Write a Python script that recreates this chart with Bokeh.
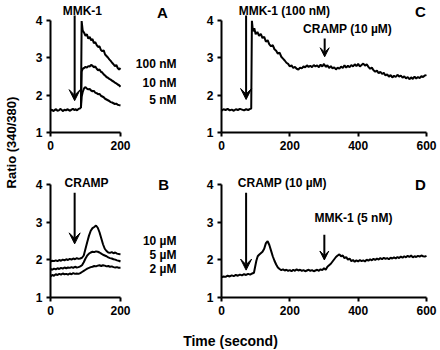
from bokeh.plotting import figure
from bokeh.models import Range1d, FixedTicker, Label, Arrow, VeeHead
from bokeh.layouts import row, column
from bokeh.embed import file_html
from bokeh.resources import INLINE
import math

# ---------------- data ----------------
# Panel A: MMK-1 response (shared baseline, then three concentrations)
a_base_t = [0, 4, 8, 12, 16, 20, 24, 28, 32, 36, 40, 44, 48, 52, 56, 60, 64, 68, 72, 76, 80, 84, 87]
a_base_v = [1.58, 1.61, 1.57, 1.60, 1.62, 1.58, 1.59, 1.63, 1.60, 1.57, 1.61, 1.59, 1.62, 1.60, 1.58,
            1.61, 1.63, 1.60, 1.62, 1.59, 1.63, 1.64, 1.66]
a_resp_t = [87, 89, 92, 96, 100, 104, 108, 112, 116, 120, 124, 128, 132, 136, 140, 144, 148, 152, 156,
            160, 164, 168, 172, 176, 180, 184, 188, 192, 196, 200]
a_100nM = [1.66, 3.97, 3.72, 3.66, 3.58, 3.62, 3.50, 3.55, 3.46, 3.49, 3.38, 3.41, 3.33, 3.28, 3.30,
           3.20, 3.17, 3.19, 3.08, 3.04, 3.00, 2.95, 2.91, 2.86, 2.82, 2.77, 2.80, 2.72, 2.68, 2.72]
a_10nM = [1.66, 2.62, 2.70, 2.72, 2.75, 2.73, 2.77, 2.76, 2.80, 2.78, 2.74, 2.76, 2.70, 2.66, 2.68,
          2.62, 2.60, 2.55, 2.52, 2.48, 2.46, 2.43, 2.41, 2.38, 2.36, 2.33, 2.31, 2.28, 2.26, 2.22]
a_5nM = [1.66, 1.95, 2.08, 2.18, 2.21, 2.17, 2.15, 2.16, 2.12, 2.10, 2.11, 2.06, 2.05, 2.02, 2.03,
         1.98, 1.96, 1.94, 1.90, 1.88, 1.86, 1.84, 1.81, 1.80, 1.78, 1.76, 1.77, 1.74, 1.73, 1.72]
a_labels = ["100 nM", "10 nM", "5 nM"]

# Panel B: CRAMP response at three concentrations
b_t = [0, 5, 10, 15, 20, 25, 30, 35, 40, 45, 50, 55, 60, 65, 70, 75, 80, 85, 90, 95, 100, 105, 110,
       115, 120, 125, 130, 135, 140, 145, 150, 155, 160, 165, 170, 175, 180, 185, 190, 195, 200]
b_10uM = [1.96, 1.98, 1.97, 1.99, 1.97, 2.00, 1.98, 2.01, 1.99, 2.02, 2.00, 2.03, 2.01, 2.04, 2.02,
          2.05, 2.03, 2.04, 2.06, 2.12, 2.30, 2.48, 2.65, 2.78, 2.85, 2.88, 2.92, 2.86, 2.74, 2.58,
          2.42, 2.30, 2.24, 2.20, 2.19, 2.21, 2.18, 2.20, 2.17, 2.16, 2.15]
b_5uM = [1.76, 1.74, 1.77, 1.75, 1.78, 1.76, 1.79, 1.77, 1.80, 1.78, 1.80, 1.79, 1.81, 1.79, 1.82,
         1.80, 1.81, 1.83, 1.86, 1.94, 2.04, 2.12, 2.17, 2.20, 2.22, 2.21, 2.23, 2.22, 2.20, 2.17,
         2.14, 2.12, 2.10, 2.07, 2.05, 2.04, 2.02, 2.01, 1.99, 1.98, 1.96]
b_2uM = [1.56, 1.60, 1.58, 1.62, 1.60, 1.63, 1.61, 1.64, 1.62, 1.63, 1.61, 1.64, 1.62, 1.65, 1.63,
         1.64, 1.63, 1.65, 1.68, 1.71, 1.74, 1.77, 1.79, 1.81, 1.82, 1.84, 1.83, 1.85, 1.86, 1.84,
         1.86, 1.85, 1.83, 1.84, 1.82, 1.83, 1.81, 1.80, 1.81, 1.79, 1.79]
b_labels = ["10 µM", "5 µM", "2 µM"]

# Panel C: MMK-1 (100 nM) then CRAMP (10 µM)
c_t = [0, 6, 12, 18, 24, 30, 36, 42, 48, 54, 60, 66, 72, 78, 84, 87, 89, 92, 96, 100, 105, 110, 115,
       120, 125, 130, 135, 140, 145, 150, 155, 160, 165, 170, 175, 180, 185, 190, 195, 200, 205, 210,
       215, 220, 225, 230, 235, 240, 245, 250, 255, 260, 265, 270, 275, 280, 285, 290, 295, 300, 305,
       310, 315, 320, 325, 330, 335, 340, 345, 350, 355, 360, 365, 370, 375, 380, 385, 390, 395, 400,
       405, 410, 415, 420, 425, 430, 435, 440, 445, 450, 455, 460, 465, 470, 475, 480, 485, 490, 495,
       500, 505, 510, 515, 520, 525, 530, 535, 540, 545, 550, 555, 560, 565, 570, 575, 580, 585, 590,
       595, 600]
c_v = [1.58, 1.62, 1.60, 1.63, 1.59, 1.61, 1.58, 1.62, 1.60, 1.63, 1.61, 1.59, 1.62, 1.60, 1.63, 1.64,
       3.98, 3.70, 3.78, 3.62, 3.68, 3.58, 3.63, 3.52, 3.55, 3.42, 3.46, 3.35, 3.30, 3.33, 3.22, 3.18,
       3.10, 3.13, 3.02, 2.97, 2.92, 2.86, 2.83, 2.76, 2.79, 2.72, 2.75, 2.70, 2.68, 2.73, 2.71, 2.76,
       2.74, 2.79, 2.75, 2.78, 2.74, 2.80, 2.76, 2.79, 2.74, 2.81, 2.76, 2.83, 2.75, 2.79, 2.72, 2.77,
       2.71, 2.74, 2.68, 2.73, 2.70, 2.76, 2.72, 2.79, 2.73, 2.78, 2.74, 2.80, 2.76, 2.82, 2.77, 2.83,
       2.76, 2.80, 2.84, 2.78, 2.82, 2.75, 2.70, 2.73, 2.66, 2.62, 2.65, 2.58, 2.62, 2.56, 2.59, 2.52,
       2.55, 2.49, 2.53, 2.47, 2.51, 2.48, 2.54, 2.49, 2.52, 2.46, 2.50, 2.44, 2.48, 2.42, 2.47, 2.43,
       2.49, 2.44, 2.48, 2.45, 2.50, 2.48, 2.52, 2.53]

# Panel D: CRAMP (10 µM) then MMK-1 (5 nM)
d_t = [0, 6, 12, 18, 24, 30, 36, 42, 48, 54, 60, 66, 72, 78, 84, 90, 95, 98, 102, 106, 110, 115, 120,
       125, 130, 135, 140, 145, 150, 155, 160, 165, 170, 175, 180, 185, 190, 195, 200, 205, 210, 215,
       220, 225, 230, 235, 240, 245, 250, 255, 260, 265, 270, 275, 280, 285, 290, 295, 300, 305, 310,
       315, 320, 325, 330, 335, 340, 345, 350, 355, 360, 365, 370, 375, 380, 385, 390, 395, 400, 405,
       410, 415, 420, 425, 430, 435, 440, 445, 450, 455, 460, 465, 470, 475, 480, 485, 490, 495, 500,
       505, 510, 515, 520, 525, 530, 535, 540, 545, 550, 555, 560, 565, 570, 575, 580, 585, 590, 595,
       600]
d_v = [1.54, 1.56, 1.55, 1.58, 1.56, 1.59, 1.57, 1.60, 1.58, 1.61, 1.59, 1.62, 1.60, 1.63, 1.61, 1.64,
       1.66, 1.80, 1.98, 2.10, 2.14, 2.18, 2.22, 2.30, 2.45, 2.50, 2.40, 2.25, 2.10, 1.98, 1.88, 1.80,
       1.76, 1.73, 1.75, 1.72, 1.74, 1.71, 1.73, 1.70, 1.74, 1.71, 1.75, 1.72, 1.74, 1.71, 1.73, 1.70,
       1.72, 1.74, 1.71, 1.73, 1.70, 1.72, 1.74, 1.71, 1.75, 1.73, 1.78, 1.74, 1.82, 1.86, 1.90, 1.96,
       2.02, 2.08, 2.12, 2.15, 2.10, 2.12, 2.05, 2.08, 2.01, 2.04, 1.97, 2.00, 1.95, 1.99, 1.96, 2.00,
       1.97, 1.99, 1.96, 2.01, 1.98, 2.02, 1.99, 2.03, 2.00, 2.04, 2.01, 2.05, 2.02, 2.06, 2.03, 2.05,
       2.02, 2.06, 2.04, 2.07, 2.04, 2.08, 2.05, 2.09, 2.06, 2.10, 2.07, 2.11, 2.08, 2.12, 2.07, 2.10,
       2.08, 2.11, 2.09, 2.12, 2.10, 2.09, 2.11]

y_ticks = [1, 2, 3, 4]
short_x_ticks = [0, 200]
long_x_ticks = [0, 200, 400, 600]

FONT = "Liberation Sans"
LW = 2


def panel(width, height, left, x_end, y_top, x_ticks, x_max):
    p = figure(width=width, height=height, output_backend="svg", toolbar_location=None,
               x_range=Range1d(0, x_end), y_range=Range1d(1, y_top),
               min_border_left=left, min_border_right=0, min_border_top=0, min_border_bottom=28)
    p.grid.visible = False
    p.outline_line_color = None
    p.background_fill_color = "white"
    p.border_fill_color = "white"
    for ax in (p.xaxis, p.yaxis):
        ax.axis_line_width = 2
        ax.axis_line_color = "black"
        ax.major_tick_line_width = 2
        ax.major_tick_in = 0
        ax.major_tick_out = 4
        ax.minor_tick_in = 0
        ax.minor_tick_out = 0
        ax.major_label_text_font = FONT
        ax.major_label_text_font_size = "12px"
        ax.major_label_text_font_style = "bold"
        ax.major_label_text_color = "black"
        ax.major_label_standoff = 4
    p.xaxis.ticker = FixedTicker(ticks=x_ticks)
    p.xaxis.bounds = (0, x_max)
    p.yaxis.ticker = FixedTicker(ticks=y_ticks)
    p.yaxis.bounds = (1, 4)
    return p


def text(p, x, y, s, size="12px", align="center"):
    p.add_layout(Label(x=x, y=y, text=s, text_font=FONT, text_font_size=size,
                       text_font_style="bold", text_align=align, text_baseline="middle",
                       text_color="black"))


def arrow(p, x, y0, y1, size=11):
    p.add_layout(Arrow(end=VeeHead(size=size, fill_color="black", line_color="black", line_width=1),
                       x_start=x, y_start=y0, x_end=x, y_end=y1, line_width=2, line_color="black"))


# ---------------- Panel A ----------------
pa = panel(168, 160, 28, 400, 4.52, short_x_ticks, 200)
pa.line(a_base_t, a_base_v, line_width=LW, color="black")
pa.line(a_resp_t, a_100nM, line_width=LW, color="black")
pa.line(a_resp_t, a_10nM, line_width=LW, color="black")
pa.line(a_resp_t, a_5nM, line_width=LW, color="black")
arrow(pa, 69, 4.12, 1.85)
text(pa, 91, 4.25, "MMK-1")
text(pa, 360, 2.84, a_labels[0], align="right")
text(pa, 360, 2.33, a_labels[1], align="right")
text(pa, 360, 1.88, a_labels[2], align="right")
text(pa, 320, 4.2, "A", size="15px")

# ---------------- Panel C ----------------
pc = panel(250, 160, 31, 641, 4.52, long_x_ticks, 600)
pc.line(c_t, c_v, line_width=LW, color="black")
arrow(pc, 72, 4.12, 1.88)
arrow(pc, 302, 3.51, 3.02, size=9)
text(pc, 184, 4.25, "MMK-1 (100 nM)")
text(pc, 369, 3.77, "CRAMP (10 µM)")
text(pc, 582, 4.22, "C", size="15px")

# ---------------- Panel B ----------------
pb = panel(168, 165, 28, 400, 4.653, short_x_ticks, 200)
pb.line(b_t, b_10uM, line_width=LW, color="black")
pb.line(b_t, b_5uM, line_width=LW, color="black")
pb.line(b_t, b_2uM, line_width=LW, color="black")
arrow(pb, 69, 3.79, 2.43)
text(pb, 103, 4.05, "CRAMP")
text(pb, 360, 2.51, b_labels[0], align="right")
text(pb, 360, 2.13, b_labels[1], align="right")
text(pb, 360, 1.76, b_labels[2], align="right")
text(pb, 323, 4.0, "B", size="15px")

# ---------------- Panel D ----------------
pd_ = panel(250, 165, 31, 641, 4.653, long_x_ticks, 600)
pd_.line(d_t, d_v, line_width=LW, color="black")
arrow(pd_, 72, 3.79, 1.73)
arrow(pd_, 301, 2.67, 2.0, size=9)
text(pd_, 178, 4.05, "CRAMP (10 µM)")
text(pd_, 386, 3.12, "MMK-1 (5 nM)")
text(pd_, 582, 4.0, "D", size="15px")


def blank(width, height):
    p = figure(width=width, height=height, output_backend="svg", toolbar_location=None,
               x_range=Range1d(0, width), y_range=Range1d(0, height),
               x_axis_type=None, y_axis_type=None, min_border=0)
    p.grid.visible = False
    p.outline_line_color = None
    p.background_fill_color = "white"
    p.border_fill_color = "white"
    return p


ylab = blank(22, 350)
ylab.add_layout(Label(x=11, y=208, text="Ratio (340/380)", angle=math.pi / 2, text_font=FONT,
                      text_font_size="13px", text_font_style="bold", text_align="center",
                      text_baseline="middle", text_color="black"))

xlab = blank(418, 25)
xlab.add_layout(Label(x=208, y=10, text="Time (second)", text_font=FONT, text_font_size="14px",
                      text_font_style="bold", text_align="center", text_baseline="middle",
                      text_color="black"))

layout = row(ylab, column(row(pa, pc), row(pb, pd_), xlab))

open("out.html", "w").write(file_html(layout, INLINE))
